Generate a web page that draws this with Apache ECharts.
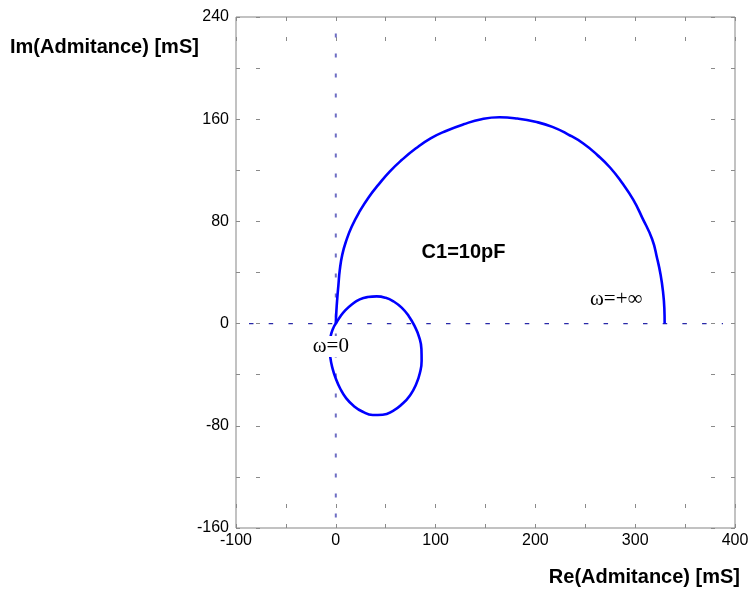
<!DOCTYPE html>
<html>
<head>
<meta charset="utf-8">
<script src="https://cdn.jsdelivr.net/npm/echarts@6/dist/echarts.min.js"></script>
<style>
  html, body { margin: 0; padding: 0; background: #fff; }
  #chart { width: 754px; height: 589px; }
</style>
</head>
<body>
<div id="chart"></div>
<script>
// Admittance locus, Re vs Im in mS
// small loop leaving the origin and returning to it
var loopRe = [0, 4, 9, 16, 24, 32, 41, 50, 58, 66, 73, 79, 83.5, 85.8, 86, 84.3, 80.5, 74.5, 66.5, 57, 47, 37, 27, 18, 10.5, 4.5, 0, -3.3, -5.5, -6.2, -5.2, -2.8, 0];
var loopIm = [0, 5, 10, 15, 19, 20.8, 21.3, 20.2, 17.3, 12.5, 6, -2, -10.5, -20, -29, -38.5, -47.5, -56, -63, -68.5, -71.3, -71.5, -69, -64.5, -58.5, -51, -43, -35, -26.5, -18, -10, -4, 0];
// large arc from the origin to the high-frequency end
var arcRe = [0, 0.6, 1.5, 2.6, 4, 6.5, 10.5, 16, 24, 33, 43, 54, 66, 80, 95, 111, 128, 146, 164, 182, 200, 217, 233, 248, 262, 275, 287, 298, 307, 317, 322, 325.5, 328, 329.2, 329.5];
var arcIm = [0, 10, 20, 30, 42, 54, 65, 76, 88, 99, 109, 119, 128, 137, 145, 151, 156, 160, 161.5, 160.5, 158, 154, 148, 141, 132, 122, 110, 97, 83, 66, 51, 38, 24, 12, 0];

// axis tick labels
var xTickLabels = [-100, 0, 100, 200, 300, 400];
var yTickLabels = [-160, -80, 0, 80, 160, 240];

// dotted reference axes through the origin
var refHorizRe = [-87, 388];
var refVertIm = [227, -152];

function pairs(xs, ys) {
  return xs.map(function (x, i) { return [x, ys[i]]; });
}

var chart = echarts.init(document.getElementById('chart'), null, { renderer: 'canvas' });

var labelFont = 'Liberation Sans, Arial, sans-serif';
var serifFont = 'Liberation Serif, Times New Roman, serif';

chart.setOption({
  animation: false,
  backgroundColor: '#ffffff',
  grid: {
    left: 236, right: 19, top: 17, bottom: 61,
    show: true, borderColor: '#858585', borderWidth: 1, backgroundColor: 'transparent'
  },
  xAxis: {
    type: 'value', min: -100, max: 400, interval: 50,
    axisLine: { show: false }, axisTick: { show: false },
    axisLabel: {
      margin: 5, color: '#000', fontFamily: labelFont, fontSize: 16,
      formatter: function (v) { return xTickLabels.indexOf(v) >= 0 ? String(v) : ''; }
    },
    splitLine: { show: true, lineStyle: { color: '#8a8a8a', width: 1, type: [4, 16, 4, 463, 4, 16, 4, 2000] } }
  },
  yAxis: {
    type: 'value', min: -160, max: 240, interval: 40,
    axisLine: { show: false }, axisTick: { show: false },
    axisLabel: {
      margin: 7, color: '#000', fontFamily: labelFont, fontSize: 16,
      formatter: function (v) { return yTickLabels.indexOf(v) >= 0 ? String(v) : ''; }
    },
    splitLine: { show: true, lineStyle: { color: '#8a8a8a', width: 1, type: [4, 16, 4, 451, 4, 16, 4, 2000] } }
  },
  graphic: [
    { type: 'text', left: 10, top: 37, style: { text: 'Im(Admitance) [mS]', font: 'bold 20px ' + labelFont, fill: '#000' } },
    { type: 'text', right: 14, top: 567, style: { text: 'Re(Admitance) [mS]', font: 'bold 20px ' + labelFont, fill: '#000' } }
  ],
  series: [
    {
      type: 'line', data: pairs(refHorizRe, [0, 0]), symbol: 'none', z: 2, silent: true,
      lineStyle: { color: '#2828a8', width: 1.4, type: [4.5, 15.2] }
    },
    {
      type: 'line', data: pairs([0, 0], refVertIm), symbol: 'none', z: 2, silent: true,
      lineStyle: { color: '#6e6ec4', width: 2, type: [4, 16] }
    },
    {
      type: 'line', data: pairs(loopRe, loopIm), symbol: 'none', smooth: 0.5, z: 3,
      lineStyle: { color: '#0000ff', width: 2.6 }
    },
    {
      type: 'line', data: pairs(arcRe, arcIm), symbol: 'none', smooth: 0.5, z: 3,
      lineStyle: { color: '#0000ff', width: 2.6 }
    },
    {
      type: 'scatter', symbolSize: 0, z: 5, silent: true,
      itemStyle: { opacity: 1 },
      data: [
        { value: [128, 56], label: { formatter: 'C1=10pF', color: '#000', fontFamily: labelFont, fontWeight: 'bold', fontSize: 20 } },
        { value: [281, 19], label: { formatter: 'ω=+∞', color: '#000', fontFamily: serifFont, fontSize: 21 } },
        { value: [-5, -18], label: { formatter: 'ω=0', color: '#000', fontFamily: serifFont, fontSize: 21, backgroundColor: '#ffffff', padding: [0, 1] } }
      ],
      label: { show: true, position: 'inside', color: '#000', opacity: 1 }
    }
  ]
});
</script>
</body>
</html>
